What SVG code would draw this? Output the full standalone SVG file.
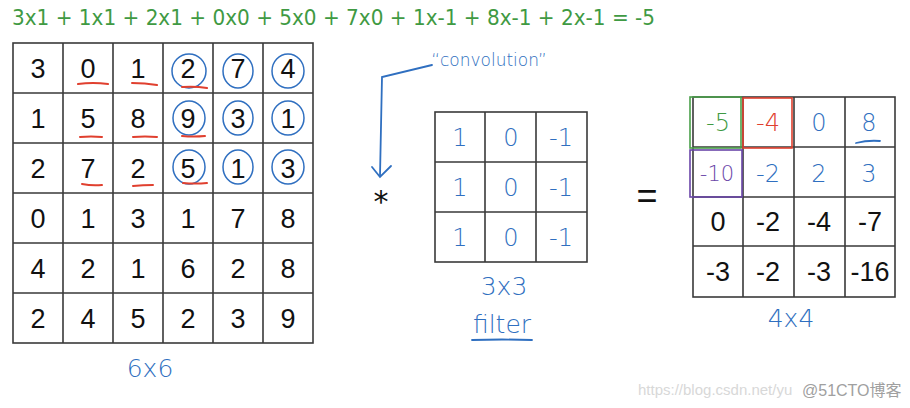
<svg xmlns="http://www.w3.org/2000/svg" width="910" height="408" viewBox="0 0 910 408">
<style>
.grid{fill:none;stroke:#3a3a3a;stroke-width:1.6}
.pd{font-family:"Liberation Sans",Arial,sans-serif;font-size:27px;fill:#111;text-anchor:middle}
.hb{font-family:"DejaVu Sans",sans-serif;font-weight:300;fill:#2f6fc0;text-anchor:middle}
.circ{fill:none;stroke:#2f6fc0;stroke-width:1.5}
.ul{stroke:#e0402f;stroke-width:2;stroke-linecap:round;fill:none}
.bl{stroke:#2f6fc0;stroke-width:1.8;fill:none;stroke-linecap:round}
</style>
<rect width="910" height="408" fill="#fff"/>

<g id="formula">
<text x="12" y="25" font-family="DejaVu Sans,sans-serif" font-size="22" fill="#3f9a43" textLength="643" lengthAdjust="spacingAndGlyphs">3x1 + 1x1  + 2x1 + 0x0 + 5x0 + 7x0 + 1x-1 + 8x-1 + 2x-1 = -5</text>
</g>

<g id="input-matrix">
<rect class="grid" x="13" y="43" width="300" height="300"/>
<path class="grid" d="M63 43V343M113 43V343M163 43V343M213 43V343M263 43V343M13 93H313M13 143H313M13 193H313M13 243H313M13 293H313"/>
<g class="pd">
<text x="38" y="78">3</text><text x="88" y="78">0</text><text x="138" y="78">1</text><text x="188" y="78">2</text><text x="238" y="78">7</text><text x="288" y="78">4</text>
<text x="38" y="128">1</text><text x="88" y="128">5</text><text x="138" y="128">8</text><text x="188" y="128">9</text><text x="238" y="128">3</text><text x="288" y="128">1</text>
<text x="38" y="178">2</text><text x="88" y="178">7</text><text x="138" y="178">2</text><text x="188" y="178">5</text><text x="238" y="178">1</text><text x="288" y="178">3</text>
<text x="38" y="228">0</text><text x="88" y="228">1</text><text x="138" y="228">3</text><text x="188" y="228">1</text><text x="238" y="228">7</text><text x="288" y="228">8</text>
<text x="38" y="278">4</text><text x="88" y="278">2</text><text x="138" y="278">1</text><text x="188" y="278">6</text><text x="238" y="278">2</text><text x="288" y="278">8</text>
<text x="38" y="328">2</text><text x="88" y="328">4</text><text x="138" y="328">5</text><text x="188" y="328">2</text><text x="238" y="328">3</text><text x="288" y="328">9</text>
</g>
<g>
<ellipse class="circ" cx="189" cy="71" rx="17" ry="17"/><ellipse class="circ" cx="238" cy="71" rx="15" ry="17"/><ellipse class="circ" cx="288" cy="71" rx="16" ry="17"/>
<ellipse class="circ" cx="189" cy="118" rx="16" ry="17"/><ellipse class="circ" cx="238" cy="118" rx="15" ry="17"/><ellipse class="circ" cx="288" cy="118" rx="16" ry="17"/>
<ellipse class="circ" cx="189" cy="167" rx="16" ry="17"/><ellipse class="circ" cx="238" cy="167" rx="15" ry="17"/><ellipse class="circ" cx="288" cy="167" rx="16" ry="17"/>
</g>
<path class="ul" d="M78 84Q93 82 108 84M132 83Q145 83 157 85M182 87Q195 86 207 88M80 137Q91 136 102 137M133 137Q145 136 157 137M182 136Q194 137 205 136M82 184Q92 186 102 185M133 186Q143 185 153 185M183 183Q195 184 207 183"/>
<text class="hb" x="150" y="377" font-size="25">6x6</text>
</g>

<g id="convolution-label">
<text class="hb" x="489" y="66" font-size="17">“convolution”</text>
</g>

<g id="operator-star">
<text x="381" y="212" font-family="DejaVu Sans,sans-serif" font-size="30" fill="#111" text-anchor="middle">*</text>
</g>

<g id="filter">
<rect class="grid" x="435" y="112" width="152" height="150"/>
<path class="grid" d="M485 112V262M536 112V262M435 162H587M435 212H587"/>
<g class="hb" font-size="24">
<text x="460" y="146">1</text><text x="511" y="146">0</text><text x="561" y="146">-1</text>
<text x="460" y="196">1</text><text x="511" y="196">0</text><text x="561" y="196">-1</text>
<text x="460" y="246">1</text><text x="511" y="246">0</text><text x="561" y="246">-1</text>
</g>
<text class="hb" x="504" y="295" font-size="25">3x3</text>
<text class="hb" x="502" y="333" font-size="25">filter</text>
<path class="bl" d="M472 340Q502 339 532 340"/>
</g>

<g id="operator-equals">
<text x="647" y="208" font-family="Liberation Sans,sans-serif" font-size="36" fill="#111" text-anchor="middle">=</text>
</g>

<g id="output-matrix">
<rect class="grid" x="693" y="97" width="202" height="200"/>
<path class="grid" d="M743 97V297M794 97V297M845 97V297M693 147H895M693 197H895M693 246H895"/>
<rect x="690" y="97" width="51" height="51" fill="none" stroke="#4aa04a" stroke-width="1.6"/>
<rect x="743" y="98" width="49" height="50" fill="none" stroke="#e0402f" stroke-width="1.6"/>
<rect x="690" y="150" width="52" height="47" fill="none" stroke="#6a45a8" stroke-width="1.6"/>
<g font-family="DejaVu Sans,sans-serif" font-weight="300" text-anchor="middle" font-size="24">
<text x="718" y="131" fill="#3f9a43">-5</text>
<text x="768" y="131" fill="#e0402f">-4</text>
<text x="819" y="131" fill="#2f6fc0">0</text>
<text x="869" y="131" fill="#2f6fc0">8</text>
<text x="717" y="181" fill="#6a45a8" font-size="21">-10</text>
<text x="768" y="182" fill="#2f6fc0">-2</text>
<text x="819" y="182" fill="#2f6fc0">2</text>
<text x="869" y="182" fill="#2f6fc0">3</text>
</g>
<path class="bl" d="M856 143Q868 140 880 141"/>
<g class="pd">
<text x="718" y="231">0</text><text x="768" y="231">-2</text><text x="819" y="231">-4</text><text x="870" y="231">-7</text>
<text x="718" y="281">-3</text><text x="768" y="281">-2</text><text x="819" y="281">-3</text><text x="870" y="281">-16</text>
</g>
<text class="hb" x="791" y="327" font-size="25">4x4</text>
</g>

<g id="connectors">
<path class="bl" d="M432 65L382 77L380 176"/>
<path class="bl" d="M372 167L380 177L391 166"/>
</g>

<g id="watermark">
<text x="638" y="395" font-family="Liberation Sans,sans-serif" font-size="15" fill="#d8d8d8">https://blog.csdn.net/yu</text>
<text x="802" y="396" font-family="Liberation Sans,'Noto Sans CJK SC',sans-serif" font-size="16" fill="#a0a0a0">@51CTO博客</text>
</g>
</svg>
